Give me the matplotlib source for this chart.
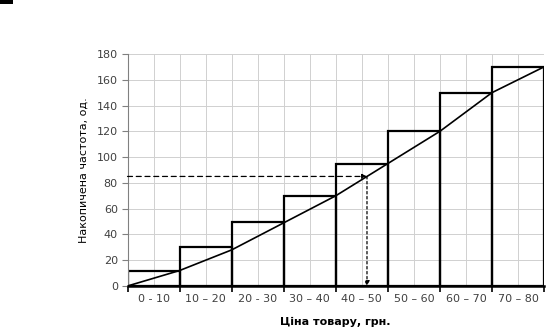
import matplotlib
matplotlib.use("Agg")
import matplotlib.pyplot as plt
from matplotlib.patches import Rectangle

# Price intervals and cumulative frequencies
categories = ["0 - 10", "10 \u2013 20", "20 - 30", "30 \u2013 40",
              "40 \u2013 50", "50 \u2013 60", "60 \u2013 70", "70 \u2013 80"]
bin_edges = [0, 10, 20, 30, 40, 50, 60, 70, 80]
cum_freq = [12, 30, 50, 70, 95, 120, 150, 170]

# Cumulative curve (ogive) points at the interval boundaries
ogive_x = [0, 10, 20, 30, 40, 50, 60, 70, 80]
ogive_y = [0, 12, 28, 49, 70, 95, 120, 150, 170]

# Median lookup: cumulative level and the resulting price
median_level = 85
median_price = 46

y_ticks = [0, 20, 40, 60, 80, 100, 120, 140, 160, 180]

plt.rcParams['font.family'] = ['DejaVu Sans']

fig = plt.figure(figsize=(5.47, 3.31), dpi=100)
fig.patch.set_facecolor("white")
fig.add_artist(Rectangle((0, 1 - 4 / 331), 13 / 547, 4 / 331,
                         transform=fig.transFigure, color="black", lw=0))

ax = fig.add_axes([127.5 / 547, 1 - 286 / 331, (544 - 127.5) / 547, (286 - 54) / 331])
ax.set_xlim(0, 80)
ax.set_ylim(0, 180)

# light grid
for gx in range(5, 81, 5):
    ax.axvline(gx, color="#d0d0d0", lw=0.7, zorder=0)
for gy in y_ticks[1:]:
    ax.axhline(gy, color="#d0d0d0", lw=0.7, zorder=0)

# cumulative histogram bars
widths = [bin_edges[i + 1] - bin_edges[i] for i in range(len(cum_freq))]
ax.bar(bin_edges[:-1], cum_freq, width=widths, align="edge",
       facecolor="none", edgecolor="black", linewidth=1.6, zorder=2)

# ogive
ax.plot(ogive_x, ogive_y, color="black", lw=1.2, zorder=3)

# median construction arrows
ax.annotate("", xy=(median_price, median_level), xytext=(0, median_level),
            arrowprops=dict(arrowstyle="-|>", linestyle=(0, (4, 3)), lw=0.9,
                            color="black", mutation_scale=7,
                            shrinkA=0, shrinkB=0), zorder=4)
ax.annotate("", xy=(median_price, 0), xytext=(median_price, median_level),
            arrowprops=dict(arrowstyle="-|>", linestyle=(0, (2, 2)), lw=0.9,
                            color="black", mutation_scale=7,
                            shrinkA=0, shrinkB=0), zorder=4)

# axes styling
for side in ["top", "right"]:
    ax.spines[side].set_visible(False)
ax.spines["left"].set_color("#808080")
ax.spines["left"].set_linewidth(0.8)
ax.spines["bottom"].set_color("black")
ax.spines["bottom"].set_linewidth(1.8)
ax.spines["bottom"].set_zorder(5)

ax.set_yticks(y_ticks)
ax.set_yticklabels([str(v) for v in y_ticks], fontsize=8, color="#404040")
ax.tick_params(axis="y", length=4, width=0.8, color="#808080", pad=3)

ax.set_xticks(bin_edges)
ax.set_xticklabels([])
ax.tick_params(axis="x", length=4, width=1.2, color="black", direction="out")
centers = [(bin_edges[i] + bin_edges[i + 1]) / 2 for i in range(len(categories))]
ax.set_xticks(centers, minor=True)
ax.set_xticklabels(categories, minor=True, fontsize=8, color="#404040")
ax.tick_params(axis="x", which="minor", length=0, pad=6)

ax.set_ylabel("Накопичена частота, од.", fontsize=8, color="black", labelpad=6)
ax.set_xlabel("Ціна товару, грн.", fontsize=8, fontweight="bold",
              color="black", labelpad=9)

fig.savefig("out.png", dpi=100, facecolor="white")
